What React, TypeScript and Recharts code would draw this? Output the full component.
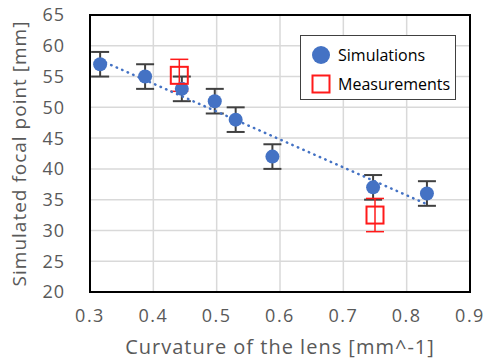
import {
  ComposedChart,
  Scatter,
  ErrorBar,
  XAxis,
  YAxis,
  CartesianGrid,
  ReferenceArea,
  Legend,
} from 'recharts';

// Simulated focal point vs lens curvature
const simCurvature = [0.316, 0.387, 0.445, 0.497, 0.53, 0.588, 0.747, 0.832];
const simFocal = [57, 55, 53, 51, 48, 42, 37, 36];
const simError = [2, 2, 2, 2, 2, 2, 2, 2];

const measCurvature = [0.441, 0.75];
const measFocal = [55.2, 32.5];
const measError = [2.6, 2.7];

const xTicks = [0.3, 0.4, 0.5, 0.6, 0.7, 0.8, 0.9];
const yTicks = [20, 25, 30, 35, 40, 45, 50, 55, 60, 65];
const legendOrder = ['Simulations', 'Measurements'];

const simData = simCurvature.map((x, i) => ({ x, y: simFocal[i], err: simError[i] }));
const measData = measCurvature.map((x, i) => ({ x, y: measFocal[i], err: measError[i] }));

const BLUE = '#4472c4';
const RED = '#ff1a1a';
const GREY_TEXT = '#595959';
const FONT = '"Open Sans", sans-serif';

function Circle({ cx, cy }: any) {
  return <circle cx={cx} cy={cy} r={7} fill={BLUE} />;
}

function Square({ cx, cy }: any) {
  return <rect x={cx - 8.5} y={cy - 8.5} width={17} height={17} fill="none" stroke={RED} strokeWidth={2} />;
}

function LegendBox({ payload }: any) {
  const items = (payload || [])
    .filter((p: any) => legendOrder.includes(p.value))
    .sort((a: any, b: any) => legendOrder.indexOf(a.value) - legendOrder.indexOf(b.value));
  return (
    <div
      style={{
        border: '1.5px solid #404040',
        background: '#fff',
        width: 156,
        height: 65,
        boxSizing: 'border-box',
        padding: '4px 0 0 10px',
        fontFamily: FONT,
        fontSize: 16,
        color: '#000',
      }}
    >
      {items.map((p: any) => (
        <div key={p.value} style={{ display: 'flex', alignItems: 'center', height: 29 }}>
          <svg width={20} height={20} style={{ marginRight: 7 }}>
            {p.value === 'Simulations' ? (
              <circle cx={10} cy={10} r={9} fill={BLUE} />
            ) : (
              <rect x={1.5} y={1.5} width={17} height={17} fill="none" stroke={RED} strokeWidth={2} />
            )}
          </svg>
          <span>{p.value}</span>
        </div>
      ))}
    </div>
  );
}

export default function App() {
  return (
    <div style={{ position: 'fixed', left: 0, top: 0, background: '#fff' }}>
      <ComposedChart
        width={487}
        height={362}
        margin={{ top: 15, right: 17, bottom: 0, left: 0 }}
      >
        <CartesianGrid stroke="#d9d9d9" strokeWidth={1.5} />
        <XAxis
          type="number"
          dataKey="x"
          domain={[0.3, 0.9]}
          ticks={xTicks}
          tickFormatter={(v) => v.toFixed(1)}
          tick={{ fill: GREY_TEXT, fontSize: 18, fontFamily: FONT, letterSpacing: 1.5 }}
          tickLine={false}
          axisLine={false}
          tickSize={0}
          tickMargin={17}
          height={70}
          label={{
            value: 'Curvature of the lens [mm^-1]',
            position: 'insideBottom',
            offset: 8,
            fill: GREY_TEXT,
            fontSize: 20,
            fontFamily: FONT,
            letterSpacing: 1,
          }}
        />
        <YAxis
          type="number"
          dataKey="y"
          domain={[20, 65]}
          ticks={yTicks}
          tick={{ fill: GREY_TEXT, fontSize: 18, fontFamily: FONT, letterSpacing: 1 }}
          tickLine={false}
          axisLine={false}
          tickSize={0}
          tickMargin={25}
          width={90}
          label={{
            value: 'Simulated focal point  [mm]',
            angle: -90,
            position: 'insideLeft',
            offset: 19,
            style: { textAnchor: 'middle', whiteSpace: 'pre' },
            fill: GREY_TEXT,
            fontSize: 19,
            fontFamily: FONT,
            letterSpacing: 1,
          }}
        />
        <ReferenceArea
          x1={0.3}
          x2={0.9}
          y1={20}
          y2={65}
          fill="none"
          stroke="#000"
          strokeWidth={2}
          ifOverflow="visible"
        />
        {/* linear trendline through the simulations */}
        <Scatter
          data={simData}
          legendType="none"
          line={{ stroke: BLUE, strokeWidth: 2.5, strokeDasharray: '0.5 5.5', strokeLinecap: 'round' }}
          lineType="fitting"
          shape={() => <g />}
          isAnimationActive={false}
        />
        <Scatter name="Simulations" data={simData} shape={<Circle />} isAnimationActive={false}>
          <ErrorBar dataKey="err" direction="y" width={9} stroke="#404040" strokeWidth={2} isAnimationActive={false} />
        </Scatter>
        <Scatter name="Measurements" data={measData} shape={<Square />} isAnimationActive={false}>
          <ErrorBar dataKey="err" direction="y" width={9} stroke={RED} strokeWidth={1.5} isAnimationActive={false} />
        </Scatter>
        <Legend
          layout="vertical"
          align="center"
          verticalAlign="middle"
          content={<LegendBox />}
          wrapperStyle={{ left: 300, top: 35, width: 156 }}
        />
      </ComposedChart>
    </div>
  );
}
